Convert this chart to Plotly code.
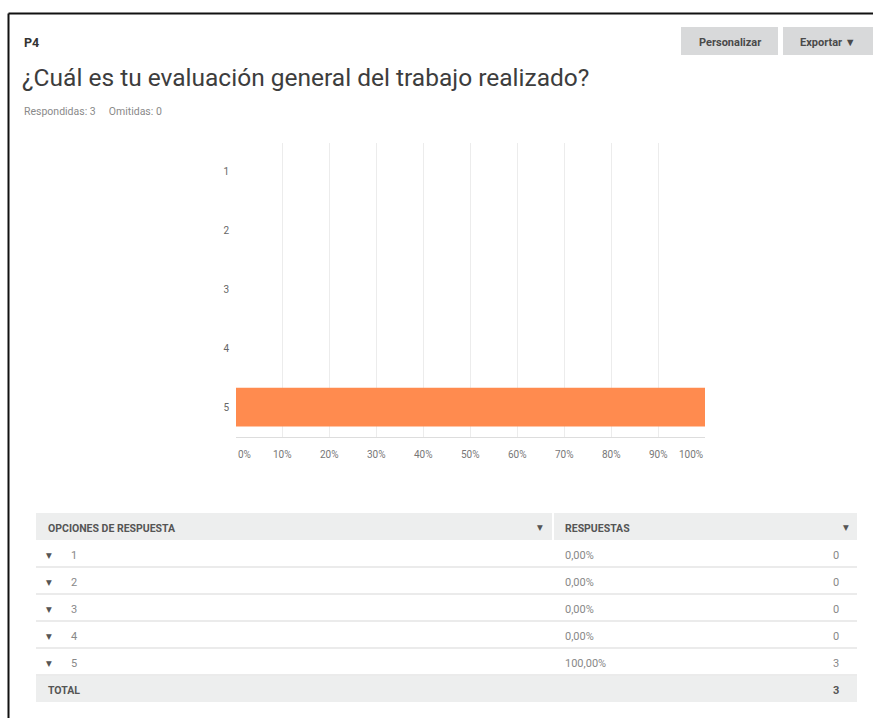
import plotly.graph_objects as go

# Survey question P4 results
categories = ["1", "2", "3", "4", "5"]
percentages = [0.0, 0.0, 0.0, 0.0, 100.0]
counts = [0, 0, 0, 0, 3]
x_ticks = [0, 10, 20, 30, 40, 50, 60, 70, 80, 90, 100]
x_tick_labels = [f"{t}%" for t in x_ticks]

question_id = "P4"
question_text = "¿Cuál es tu evaluación general del trabajo realizado?"
answered = 3
skipped = 0

W, H = 873, 718


def px(x):
    return x / W


def py(y):
    return 1 - y / H


FONT = "Roboto, Arial, sans-serif"
TXT_DY = 2  # baseline nudge for table text

fig = go.Figure()
fig.add_trace(go.Bar(
    x=percentages,
    y=categories,
    orientation="h",
    width=0.66,
    marker=dict(color="#ff8b4f", line=dict(width=0)),
    hoverinfo="skip",
))

shapes = []
annotations = []

# page frame (top and left edge)
shapes.append(dict(type="line", xref="paper", yref="paper",
                   x0=px(8.5), x1=px(W + 5), y0=py(13.5), y1=py(13.5),
                   line=dict(color="#111", width=2)))
shapes.append(dict(type="line", xref="paper", yref="paper",
                   x0=px(8.5), x1=px(8.5), y0=py(13.5), y1=py(H + 5),
                   line=dict(color="#111", width=2)))

# header texts
annotations.append(dict(text=f"<b>{question_id}</b>", xref="paper", yref="paper",
                        x=px(22), y=py(42), xanchor="left", yanchor="middle",
                        showarrow=False, font=dict(family=FONT, size=12.5, color="#333")))
annotations.append(dict(text=question_text, xref="paper", yref="paper",
                        x=px(20), y=py(77), xanchor="left", yanchor="middle",
                        showarrow=False, font=dict(family=FONT, size=24.5, color="#3d3d3d")))
annotations.append(dict(text=f"Respondidas: {answered}&nbsp;&nbsp;&nbsp;&nbsp;&nbsp;Omitidas: {skipped}",
                        xref="paper", yref="paper",
                        x=px(22), y=py(112), xanchor="left", yanchor="middle",
                        showarrow=False, font=dict(family=FONT, size=10.5, color="#8a8a8a")))

# buttons
for x0, x1, label in [(681, 778, "Personalizar"), (783, 880, "Exportar ▼")]:
    shapes.append(dict(type="rect", xref="paper", yref="paper",
                       x0=px(x0), x1=px(x1), y0=py(27), y1=py(55),
                       fillcolor="#d8d9da", line=dict(width=0)))
    annotations.append(dict(text=f"<b>{label}</b>", xref="paper", yref="paper",
                            x=px((x0 + min(x1, 872)) / 2), y=py(42),
                            xanchor="center", yanchor="middle", showarrow=False,
                            font=dict(family=FONT, size=11, color="#4a4a4a")))

# x tick labels, kept inside the plot edges at both ends
for t, lab in zip(x_ticks, x_tick_labels):
    anchor = "left" if t == x_ticks[0] else ("right" if t == x_ticks[-1] else "center")
    annotations.append(dict(text=lab, xref="x", yref="paper", x=t, y=py(454),
                            xanchor=anchor, yanchor="middle", showarrow=False,
                            font=dict(family=FONT, size=10, color="#777")))

# response table
tx0, tx1, split = 36, 857, 553
row_h = 27
head_top = 513
shapes.append(dict(type="rect", xref="paper", yref="paper",
                   x0=px(tx0), x1=px(split - 1), y0=py(head_top), y1=py(head_top + row_h),
                   fillcolor="#edeeee", line=dict(width=0)))
shapes.append(dict(type="rect", xref="paper", yref="paper",
                   x0=px(split + 1), x1=px(tx1), y0=py(head_top), y1=py(head_top + row_h),
                   fillcolor="#edeeee", line=dict(width=0)))
hy = head_top + row_h / 2 + TXT_DY
annotations.append(dict(text="<b>OPCIONES DE RESPUESTA</b>", xref="paper", yref="paper",
                        x=px(46), y=py(hy), xanchor="left", yanchor="middle", showarrow=False,
                        font=dict(family=FONT, size=10.5, color="#555")))
annotations.append(dict(text="<b>RESPUESTAS</b>", xref="paper", yref="paper",
                        x=px(563), y=py(hy), xanchor="left", yanchor="middle", showarrow=False,
                        font=dict(family=FONT, size=10.5, color="#555")))
for tx in (540, 846):
    annotations.append(dict(text="▼", xref="paper", yref="paper",
                            x=px(tx), y=py(hy - 1), xanchor="center", yanchor="middle",
                            showarrow=False, font=dict(family="DejaVu Sans", size=7.5, color="#555")))

for i, (cat, pct, cnt) in enumerate(zip(categories, percentages, counts)):
    top = head_top + row_h * (i + 1)
    cy = top + row_h / 2 + TXT_DY
    annotations.append(dict(text="▼", xref="paper", yref="paper",
                            x=px(49), y=py(cy), xanchor="center", yanchor="middle",
                            showarrow=False, font=dict(family="DejaVu Sans", size=7.5, color="#555")))
    annotations.append(dict(text=cat, xref="paper", yref="paper",
                            x=px(69), y=py(cy), xanchor="left", yanchor="middle",
                            showarrow=False, font=dict(family=FONT, size=11, color="#888")))
    annotations.append(dict(text=f"{pct:.2f}%".replace(".", ","), xref="paper", yref="paper",
                            x=px(563), y=py(cy), xanchor="left", yanchor="middle",
                            showarrow=False, font=dict(family=FONT, size=11, color="#888")))
    annotations.append(dict(text=str(cnt), xref="paper", yref="paper",
                            x=px(841), y=py(cy), xanchor="right", yanchor="middle",
                            showarrow=False, font=dict(family=FONT, size=11, color="#888")))
    shapes.append(dict(type="line", xref="paper", yref="paper",
                       x0=px(tx0), x1=px(tx1), y0=py(top + row_h), y1=py(top + row_h),
                       line=dict(color="#e4e4e4", width=1.5)))

total_top = head_top + row_h * (len(categories) + 1)
shapes.append(dict(type="rect", xref="paper", yref="paper",
                   x0=px(tx0), x1=px(tx1), y0=py(total_top + 1), y1=py(total_top + row_h),
                   fillcolor="#edeeee", line=dict(width=0)))
ty = total_top + row_h / 2 + TXT_DY
annotations.append(dict(text="<b>TOTAL</b>", xref="paper", yref="paper",
                        x=px(46), y=py(ty), xanchor="left", yanchor="middle", showarrow=False,
                        font=dict(family=FONT, size=10.5, color="#555")))
annotations.append(dict(text=f"<b>{sum(counts)}</b>", xref="paper", yref="paper",
                        x=px(841), y=py(ty), xanchor="right", yanchor="middle", showarrow=False,
                        font=dict(family=FONT, size=11, color="#555")))

fig.update_layout(
    width=W, height=H,
    margin=dict(l=0, r=0, t=0, b=0),
    paper_bgcolor="white", plot_bgcolor="white",
    showlegend=False,
    shapes=shapes,
    annotations=annotations,
    xaxis=dict(domain=[px(236), px(705)], range=[0, 100], tickvals=x_ticks,
               showticklabels=False, showgrid=True, gridcolor="#ececec", gridwidth=1,
               zeroline=False, showline=True, linecolor="#dddddd", linewidth=1,
               fixedrange=True),
    yaxis=dict(domain=[py(436.5), py(142.5)], type="category",
               categoryorder="array", categoryarray=categories, autorange="reversed",
               showgrid=False, zeroline=False, showline=False,
               ticks="", ticklabelstandoff=6,
               tickfont=dict(family=FONT, size=10, color="#666"),
               fixedrange=True),
)

fig.write_html("out.html", config={"displayModeBar": False})
